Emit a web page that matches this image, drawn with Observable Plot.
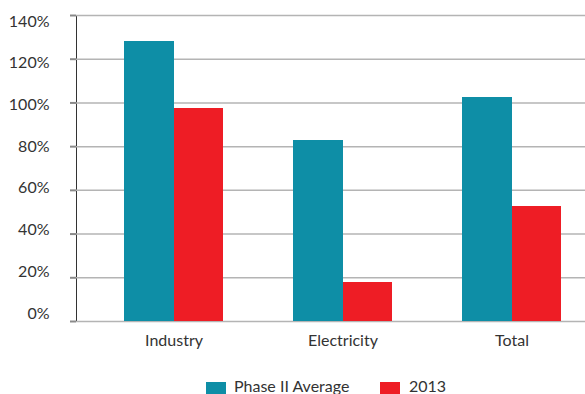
<!DOCTYPE html>
<html><head><meta charset="utf-8">
<script src="https://cdn.jsdelivr.net/npm/d3@7"></script>
<script src="https://cdn.jsdelivr.net/npm/@observablehq/plot@0.6"></script>
<style>
body{margin:0;background:#fff;overflow:hidden;font-family:Lato,sans-serif;}
#chart svg g[aria-label^="y-axis"] line,
#chart svg g[aria-label^="y-axis"] path{stroke:#8a8a8a;stroke-width:2;stroke-opacity:1;}
#chart svg text{fill:#333;}
#legend{position:relative;height:24px;width:585px;font-family:Lato,sans-serif;font-size:16px;color:#333;}
#legend .sw{position:absolute;top:12px;width:20px;height:14px;}
#legend .lb{position:absolute;top:7px;line-height:18px;white-space:nowrap;}
</style></head><body>
<div id="chart"></div>
<div id="legend"></div>
<script>
const categories = ["Industry", "Electricity", "Total"];
const series = ["Phase II Average", "2013"];
const phaseII = [1.28, 0.83, 1.025];
const y2013 = [0.975, 0.18, 0.525];
const yTicks = [0, 0.2, 0.4, 0.6, 0.8, 1.0, 1.2, 1.4];
const colors = ["#0e8ea6", "#ee1d25"];

const data = categories.flatMap((c, i) => [
  {category: c, series: series[0], value: phaseII[i]},
  {category: c, series: series[1], value: y2013[i]}
]);

// tick labels in the source sit on a slightly compressed ladder relative to the gridlines
const labelPlace = v => 0.0366 + 0.9543 * v;

const chart = Plot.plot({
  width: 585,
  height: 370,
  marginTop: 15,
  marginBottom: 49,
  marginLeft: 76,
  marginRight: 0,
  style: {fontFamily: "Lato, sans-serif", fontSize: "16px", color: "#333", background: "#fff"},
  x: {domain: categories, range: [76, 610], paddingInner: 0.4118, paddingOuter: 0.2765, label: null, tickSize: 0, tickPadding: 13.5},
  y: {domain: [0, 1.4], ticks: yTicks, tickFormat: () => "", label: null, tickSize: 6, tickPadding: 0, line: true},
  color: {domain: series, range: colors},
  marks: [
    Plot.ruleY(yTicks, {stroke: "#b4b4b4", strokeWidth: 1.5}),
    Plot.barY(data.filter(d => d.series === series[0]), {x: "category", y: "value", fill: "series", insetRight: 49.5, shapeRendering: "crispEdges"}),
    Plot.barY(data.filter(d => d.series === series[1]), {x: "category", y: "value", fill: "series", insetLeft: 50, shapeRendering: "crispEdges"}),
    Plot.text(yTicks, {y: labelPlace, text: d => Math.round(d * 100) + "%", frameAnchor: "left", textAnchor: "end", dx: -27, fill: "#333"})
  ]
});
document.getElementById("chart").appendChild(chart);

const legend = document.getElementById("legend");
const pos = [[206, 234], [380, 409]];
series.forEach((s, i) => {
  const sw = document.createElement("div");
  sw.className = "sw";
  sw.style.left = pos[i][0] + "px";
  sw.style.background = colors[i];
  const lb = document.createElement("div");
  lb.className = "lb";
  lb.style.left = pos[i][1] + "px";
  lb.textContent = s;
  legend.appendChild(sw);
  legend.appendChild(lb);
});
</script>
</body></html>
